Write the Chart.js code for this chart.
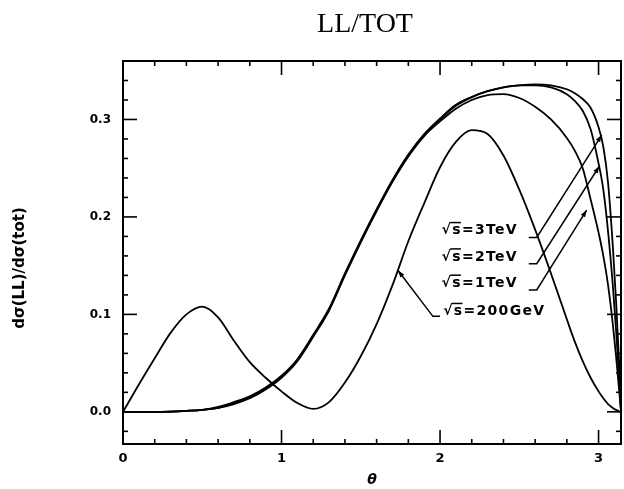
<!DOCTYPE html>
<html><head><meta charset="utf-8">
<script src="https://cdn.jsdelivr.net/npm/chart.js@4.4.0/dist/chart.umd.min.js"></script>
<style>html,body{margin:0;padding:0;background:#fff;}#wrap{width:624px;height:489px;}</style>
</head><body><div id="wrap"><canvas id="c" width="624" height="489"></canvas></div>
<script>
// ---- data ----
const theta = [0,0.1,0.2,0.3,0.4,0.5,0.6,0.7,0.8,0.9,1.0,1.1,1.2,1.3,1.4,1.5,1.6,1.7,1.8,1.9,2.0,2.1,2.2,2.3,2.4,2.5,2.6,2.7,2.8,2.85,2.9,2.95,3.0,3.03,3.06,3.09,3.11,3.13,3.1416];
const ll200GeV = [0,0.028,0.055,0.081,0.100,0.108,0.097,0.073,0.051,0.035,0.021,0.009,0.003,0.010,0.030,0.057,0.090,0.130,0.175,0.214,0.251,0.277,0.289,0.285,0.263,0.228,0.187,0.142,0.095,0.072,0.052,0.035,0.021,0.014,0.008,0.004,0.002,0.0005,0];
const ll1TeV = [0,0,0,0.0003,0.001,0.002,0.004,0.008,0.014,0.023,0.035,0.052,0.077,0.104,0.140,0.174,0.206,0.236,0.262,0.283,0.298,0.311,0.320,0.325,0.326,0.322,0.313,0.300,0.281,0.268,0.250,0.218,0.184,0.160,0.130,0.090,0.058,0.022,0];
const ll2TeV = [0,0,0,0.0003,0.001,0.002,0.004,0.009,0.015,0.024,0.036,0.053,0.078,0.105,0.141,0.175,0.207,0.237,0.263,0.284,0.300,0.314,0.323,0.329,0.333,0.335,0.335,0.333,0.326,0.319,0.309,0.290,0.255,0.228,0.185,0.130,0.085,0.035,0];
const ll3TeV = [0,0,0,0.0003,0.001,0.002,0.005,0.010,0.016,0.025,0.037,0.054,0.079,0.106,0.142,0.176,0.208,0.238,0.264,0.285,0.301,0.315,0.323,0.329,0.333,0.335,0.336,0.335,0.331,0.327,0.321,0.312,0.292,0.272,0.235,0.170,0.115,0.050,0];
const seriesLabels = ['\u221As=200GeV','\u221As=1TeV','\u221As=2TeV','\u221As=3TeV'];
const xTickValues = [0,1,2,3];
const yTickValues = [0,0.1,0.2,0.3];
const titleText = 'LL/TOT';
const xTitle = '\u03B8';
const yTitle = 'd\u03C3(LL)/d\u03C3(tot)';

// ---- layout / style ----
const X_MIN = 0, X_MAX = Math.PI, Y_MIN = -0.033, Y_MAX = 0.36;
const xMinorStep = 0.2, yMinorStep = 0.02;
const tickFont = {family: 'DejaVu Sans', size: 13, weight: 'bold'};
// label placements in data coordinates: text anchor + leader path ending at the curve
const labelPlacement = [
  {text: seriesLabels[3], tx: 2.01, ty: 0.186, path: [[2.56,0.179],[2.61,0.179],[3.02,0.284]]},
  {text: seriesLabels[2], tx: 2.01, ty: 0.159, path: [[2.56,0.152],[2.61,0.152],[3.005,0.252]]},
  {text: seriesLabels[1], tx: 2.01, ty: 0.132, path: [[2.56,0.125],[2.61,0.125],[2.925,0.207]]},
  {text: seriesLabels[0], tx: 2.02, ty: 0.103, path: [[2.0,0.098],[1.955,0.098],[1.735,0.145]]}
];

const toPts = arr => theta.map((t,i) => ({x: t, y: arr[i]}));
const mkSet = (label, arr) => ({label, data: toPts(arr), borderColor:'#000', borderWidth:1.8, pointRadius:0, fill:false, cubicInterpolationMode:'monotone'});

const framePlugin = {
  id: 'frame',
  afterDraw(chart) {
    const {ctx, chartArea: a, scales: {x, y}} = chart;
    ctx.save();
    ctx.strokeStyle = '#000';
    ctx.fillStyle = '#000';
    ctx.lineWidth = 2;
    ctx.strokeRect(a.left, a.top, a.right - a.left, a.bottom - a.top);
    const seg = (x1,y1,x2,y2) => {ctx.beginPath(); ctx.moveTo(x1,y1); ctx.lineTo(x2,y2); ctx.stroke();};
    ctx.lineWidth = 1.6;
    const majorLen = 14, minorLen = 5;
    for (let i = 0; i * xMinorStep <= X_MAX + 1e-9; i++) {
      const v = i * xMinorStep;
      const px = x.getPixelForValue(v);
      if (px <= a.left + 1 || px >= a.right - 1) continue;
      const len = xTickValues.some(t => Math.abs(t - v) < 1e-6) ? majorLen : minorLen;
      seg(px, a.bottom, px, a.bottom - len);
      seg(px, a.top, px, a.top + len);
    }
    for (let i = Math.ceil(Y_MIN / yMinorStep); i * yMinorStep <= Y_MAX + 1e-9; i++) {
      const v = i * yMinorStep;
      const py = y.getPixelForValue(v);
      if (py <= a.top + 1 || py >= a.bottom - 1) continue;
      const len = yTickValues.some(t => Math.abs(t - v) < 1e-6) ? majorLen : minorLen;
      seg(a.left, py, a.left + len, py);
      seg(a.right, py, a.right - len, py);
    }
    // chart title
    ctx.font = '28px "Liberation Serif"';
    ctx.textAlign = 'center';
    ctx.textBaseline = 'middle';
    ctx.fillText(titleText, 365, 25);
    // y axis title
    ctx.save();
    ctx.font = 'bold 15px "DejaVu Sans"';
    ctx.textAlign = 'center';
    ctx.textBaseline = 'middle';
    ctx.translate(20, 268);
    ctx.rotate(-Math.PI / 2);
    ctx.fillText(yTitle, 0, 0);
    ctx.restore();
    // series labels with leaders
    ctx.font = 'bold 14px "DejaVu Sans"';
    ctx.letterSpacing = '1.3px';
    ctx.textAlign = 'left';
    ctx.textBaseline = 'middle';
    ctx.lineWidth = 1.5;
    labelPlacement.forEach(p => {
      const tx = x.getPixelForValue(p.tx), ty = y.getPixelForValue(p.ty);
      ctx.fillText(p.text, tx, ty);
      const wRoot = ctx.measureText('\u221A').width;
      const wRs = ctx.measureText('\u221As').width;
      seg(tx + wRoot - 2, ty - 8, tx + wRs - 1, ty - 8);
      const pts = p.path.map(q => [x.getPixelForValue(q[0]), y.getPixelForValue(q[1])]);
      ctx.beginPath();
      ctx.moveTo(pts[0][0], pts[0][1]);
      for (let k = 1; k < pts.length; k++) ctx.lineTo(pts[k][0], pts[k][1]);
      ctx.stroke();
      const [ex, ey] = pts[pts.length - 1], [sx, sy] = pts[pts.length - 2];
      const ang = Math.atan2(ey - sy, ex - sx);
      ctx.beginPath();
      ctx.moveTo(ex, ey);
      ctx.lineTo(ex - 7 * Math.cos(ang) + 2.5 * Math.sin(ang), ey - 7 * Math.sin(ang) - 2.5 * Math.cos(ang));
      ctx.lineTo(ex - 7 * Math.cos(ang) - 2.5 * Math.sin(ang), ey - 7 * Math.sin(ang) + 2.5 * Math.cos(ang));
      ctx.closePath();
      ctx.fill();
    });
    ctx.restore();
  }
};

new Chart(document.getElementById('c'), {
  type: 'line',
  data: {datasets: [mkSet(seriesLabels[0], ll200GeV), mkSet(seriesLabels[1], ll1TeV), mkSet(seriesLabels[2], ll2TeV), mkSet(seriesLabels[3], ll3TeV)]},
  options: {
    responsive: false, animation: false, devicePixelRatio: 1,
    layout: {padding: {left: 0, right: 3, top: 61, bottom: 0}},
    plugins: {legend: {display: false}, tooltip: {enabled: false}, title: {display: false}},
    scales: {
      x: {type: 'linear', min: X_MIN, max: X_MAX,
        grid: {display: false, drawTicks: false}, border: {display: false},
        afterBuildTicks: s => { s.ticks = xTickValues.map(v => ({value: v})); },
        afterFit: s => { s.height = 45; },
        ticks: {color: '#000', font: tickFont, padding: 7, maxRotation: 0, callback: v => String(v)},
        title: {display: true, text: xTitle, color: '#000', font: {family: 'DejaVu Sans', size: 14, weight: 'bold', style: 'italic'}, padding: {top: 0, bottom: 0}}
      },
      y: {min: Y_MIN, max: Y_MAX,
        grid: {display: false, drawTicks: false}, border: {display: false},
        afterBuildTicks: s => { s.ticks = yTickValues.map(v => ({value: v})); },
        afterFit: s => { s.width = 123; },
        ticks: {color: '#000', font: {family: 'DejaVu Sans', size: 12, weight: 'bold'}, padding: 12, callback: v => v.toFixed(1)}
      }
    }
  },
  plugins: [framePlugin]
});
</script>
</body></html>
